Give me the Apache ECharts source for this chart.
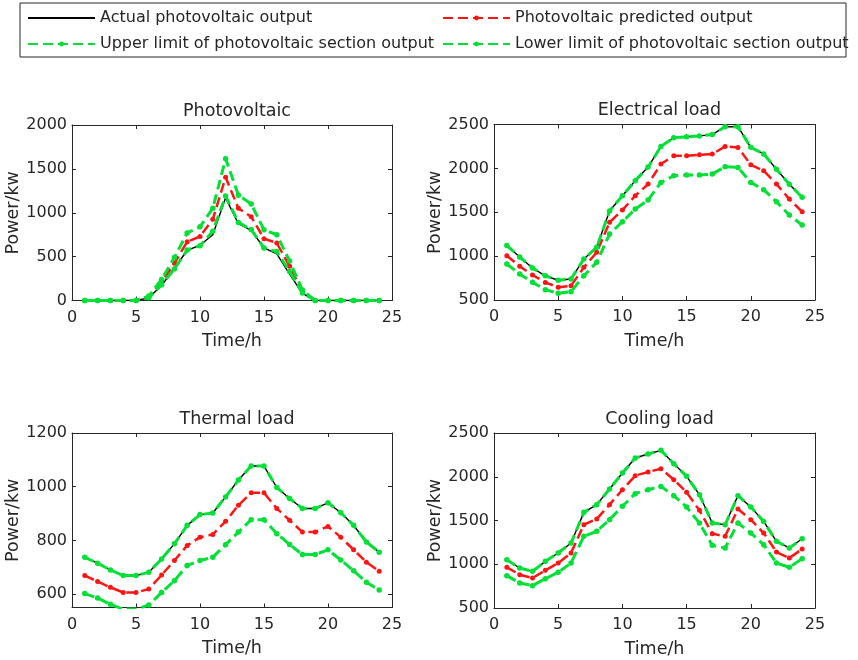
<!DOCTYPE html>
<html>
<head>
<meta charset="utf-8">
<script src="https://cdn.jsdelivr.net/npm/echarts@6/dist/echarts.min.js"></script>
<style>
html,body{margin:0;padding:0;background:#fff;}
#chart{width:858px;height:660px;}
</style>
</head>
<body>
<div id="chart"></div>
<script>
// ---- data ----
const hours = [1,2,3,4,5,6,7,8,9,10,11,12,13,14,15,16,17,18,19,20,21,22,23,24];
const titles = ['Photovoltaic','Electrical load','Thermal load','Cooling load'];
const seriesNames = ['Actual photovoltaic output','Photovoltaic predicted output','Upper limit of photovoltaic section output','Lower limit of photovoltaic section output'];

const pvActual = [0,0,0,0,0,30,170,370,570,630,750,1170,875,800,600,530,300,80,0,0,0,0,0,0];
const pvPred   = [0,0,0,0,0,40,210,424,670,730,925,1404,1050,955,705,655,390,100,0,0,0,0,0,0];
const pvUpper  = [0,0,0,0,0,50,240,490,770,840,1050,1615,1200,1100,805,750,450,120,0,0,0,0,0,0];
const pvLower  = [0,0,0,0,0,30,180,360,575,625,790,1190,890,810,597,557,330,85,0,0,0,0,0,0];

const elActual = [1120,990,865,775,725,740,967,1100,1515,1688,1860,2015,2250,2350,2360,2370,2385,2475,2475,2240,2165,1990,1820,1670];
const elPred   = [1005,885,785,700,645,663,872,1043,1385,1525,1688,1821,2049,2144,2144,2155,2163,2250,2239,2041,1973,1821,1650,1506];
const elUpper  = [1120,990,865,775,725,740,967,1100,1515,1688,1860,2015,2250,2350,2360,2370,2385,2475,2475,2240,2165,1990,1820,1670];
const elLower  = [910,796,701,618,576,595,777,929,1252,1392,1536,1639,1840,1916,1924,1924,1935,2019,2011,1840,1757,1620,1468,1354];

const thActual = [737,715,690,669,669,681,731,787,856,896,902,962,1025,1077,1077,997,956,919,919,940,903,856,794,756];
const thPred   = [669,647,625,606,606,619,671,725,781,812,822,871,931,977,977,919,875,831,831,852,812,765,719,685];
const thUpper  = [737,715,690,669,669,681,731,787,856,896,902,962,1025,1077,1077,997,956,919,919,940,903,856,794,756];
const thLower  = [602,585,562,544,544,559,606,650,706,725,737,784,831,877,877,825,785,747,747,765,727,687,644,615];

const coActual = [1052,957,919,1033,1129,1243,1593,1681,1860,2043,2214,2260,2302,2150,2005,1795,1471,1452,1784,1654,1490,1262,1186,1292];
const coPred   = [965,881,843,931,1014,1129,1452,1517,1681,1852,2012,2054,2092,1967,1822,1616,1350,1319,1631,1510,1357,1140,1071,1174];
const coUpper  = [1052,957,919,1033,1129,1243,1593,1681,1860,2043,2214,2260,2302,2150,2005,1795,1471,1452,1784,1654,1490,1262,1186,1292];
const coLower  = [870,786,755,835,908,1014,1319,1376,1510,1662,1807,1852,1890,1784,1654,1471,1216,1186,1471,1357,1224,1014,965,1064];

const xTicks = [0,5,10,15,20,25];
const yRanges = [[0,2000,500],[500,2500,500],[550,1200,200],[500,2500,500]];

const panels = [
  [pvActual, pvPred, pvUpper, pvLower],
  [elActual, elPred, elUpper, elLower],
  [thActual, thPred, thUpper, thLower],
  [coActual, coPred, coUpper, coLower]
];

// ---- layout / style ----
const FONT = 'DejaVu Sans';
const TXT = '#262626';
const GREEN = '#00e036';
const RED = '#ff1414';
const grids = [
  {left:72, top:125, width:320, height:175.5},
  {left:494, top:124.5, width:321, height:175.5},
  {left:72, top:433, width:320, height:174.5},
  {left:494, top:433, width:321, height:175}
];

const xAxes = [], yAxes = [], series = [], titleArr = [];
grids.forEach((g, i) => {
  const [ymin, ymax, yint] = yRanges[i];
  const yIsMult = ymin % yint === 0;
  xAxes.push({
    gridIndex:i, type:'value', position:'bottom', min:xTicks[0], max:xTicks[xTicks.length-1], interval:5,
    axisLine:{show:true, onZero:false, lineStyle:{color:TXT, width:1}},
    axisTick:{show:true, inside:true, length:4, lineStyle:{color:TXT}},
    axisLabel:{fontSize:16, color:TXT, fontFamily:FONT, margin:9},
    splitLine:{show:false},
    name:'Time/h', nameLocation:'middle', nameGap:32,
    nameTextStyle:{fontSize:17.5, color:TXT, fontFamily:FONT}
  });
  xAxes.push({
    gridIndex:i, type:'value', position:'top', min:xTicks[0], max:xTicks[xTicks.length-1], interval:5,
    axisLine:{show:true, onZero:false, lineStyle:{color:TXT, width:1}},
    axisTick:{show:true, inside:true, length:4, lineStyle:{color:TXT}},
    axisLabel:{show:false}, splitLine:{show:false}
  });
  const yBase = {
    gridIndex:i, type:'value', min:ymin, max:ymax,
    axisLine:{show:true, onZero:false, lineStyle:{color:TXT, width:1}},
    axisTick:{show:true, inside:true, length:4, lineStyle:{color:TXT}},
    splitLine:{show:false}
  };
  if (yIsMult) { yBase.interval = yint; } else { yBase.minInterval = yint; yBase.maxInterval = yint; }
  yAxes.push(Object.assign({}, yBase, {
    position:'left',
    axisLabel:{fontSize:16, color:TXT, fontFamily:FONT, margin:5,
      formatter: v => (v % yint === 0 ? String(v) : '')},
    name:'Power/kw', nameLocation:'middle', nameGap:48,
    nameTextStyle:{fontSize:17.5, color:TXT, fontFamily:FONT}
  }));
  yAxes.push(Object.assign({}, yBase, {position:'right', axisLabel:{show:false}}));

  titleArr.push({
    text:titles[i], left:g.left + g.width/2, top:g.top - 28, textAlign:'center',
    textStyle:{fontSize:17.5, fontWeight:'normal', color:TXT, fontFamily:FONT}
  });

  const [act, pred, up, low] = panels[i];
  const toPts = arr => hours.map((h, k) => [h, arr[k]]);
  const common = {type:'line', xAxisIndex:2*i, yAxisIndex:2*i, animation:false, clip:true};
  series.push(Object.assign({}, common, {
    name:seriesNames[0], data:toPts(act), symbol:'none', showSymbol:false,
    lineStyle:{color:'#000', width:1.4}, itemStyle:{color:'#000'}, z:2
  }));
  series.push(Object.assign({}, common, {
    name:seriesNames[1], data:toPts(pred), symbol:'circle', symbolSize:5,
    lineStyle:{color:RED, width:2.5, type:[10,5]}, itemStyle:{color:RED}, z:3
  }));
  series.push(Object.assign({}, common, {
    name:seriesNames[2], data:toPts(up), symbol:'circle', symbolSize:5.5,
    lineStyle:{color:GREEN, width:3, type:[10,5]}, itemStyle:{color:GREEN}, z:4
  }));
  series.push(Object.assign({}, common, {
    name:seriesNames[3], data:toPts(low), symbol:'circle', symbolSize:5.5,
    lineStyle:{color:GREEN, width:3, type:[10,5]}, itemStyle:{color:GREEN}, z:4
  }));
});

const legendPos = [[27,10],[442,10],[27,36],[442,36]];
const legends = seriesNames.map((n, k) => {
  const lg = {
    data:[n], left:legendPos[k][0], top:legendPos[k][1], orient:'horizontal',
    itemWidth:67, itemHeight:6, itemGap:4, padding:0, selectedMode:false,
    textStyle:{fontSize:16, color:TXT, fontFamily:FONT}
  };
  if (k === 0) lg.itemStyle = {opacity:0};
  return lg;
});

const chart = echarts.init(document.getElementById('chart'), null, {renderer:'canvas'});
chart.setOption({
  backgroundColor:'#fff',
  animation:false,
  title:titleArr,
  legend:legends,
  grid:grids,
  xAxis:xAxes,
  yAxis:yAxes,
  series:series,
  graphic:[{
    type:'rect', shape:{x:20, y:3, width:826, height:54},
    style:{fill:'none', stroke:TXT, lineWidth:1}, silent:true, z:-1
  }]
});
</script>
</body>
</html>
